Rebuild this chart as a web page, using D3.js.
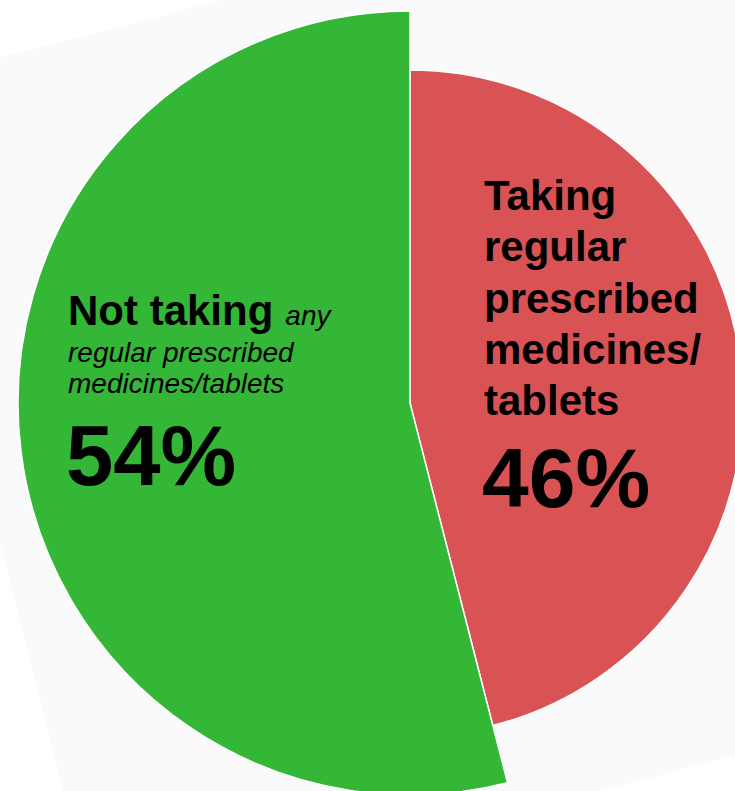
<!DOCTYPE html>
<html>
<head>
<meta charset="utf-8">
<script src="https://cdn.jsdelivr.net/npm/d3@7"></script>
<style>
  html, body { margin: 0; padding: 0; background: #ffffff; }
  svg { display: block; }
  text { font-family: "Liberation Sans", Arial, sans-serif; fill: #000; }
</style>
</head>
<body>
<svg id="chart" width="735" height="791"></svg>
<script>
// Share of respondents by medication status
const categories = ["Taking regular prescribed medicines/tablets",
                    "Not taking any regular prescribed medicines/tablets"];
const values = [46, 54];

// Per-slice appearance
const sliceColors = ["#d95355", "#34b636"];
const sliceRadii = [333, 392];

const svg = d3.select("#chart");
const cx = 410, cy = 403;

// faint tilted backdrop sheet
svg.append("rect")
  .attr("x", 0).attr("y", 0)
  .attr("width", 1100).attr("height", 860)
  .attr("fill", "#fafafa")
  .attr("transform", "translate(-118,88) rotate(-14.5)");

const pie = d3.pie().sort(null).value(d => d)(values);

const g = svg.append("g").attr("transform", `translate(${cx},${cy})`);

g.selectAll("path")
  .data(pie)
  .join("path")
  .attr("d", (d, i) => d3.arc().innerRadius(0).outerRadius(sliceRadii[i])(d))
  .attr("fill", (d, i) => sliceColors[i])
  .attr("stroke", "#ffffff")
  .attr("stroke-width", 1.5)
  .attr("stroke-linejoin", "round");

// Label for the red slice
const red = svg.append("text").attr("x", 484).attr("font-weight", "bold").attr("font-size", 42);
["Taking", "regular", "prescribed", "medicines/", "tablets"].forEach((t, i) => {
  red.append("tspan").attr("x", 484).attr("y", 210 + i * 51.3).text(t);
});
svg.append("text")
  .attr("x", 482).attr("y", 507)
  .attr("font-weight", "bold").attr("font-size", 84)
  .text(values[0] + "%");

// Label for the green slice
const green = svg.append("text").attr("x", 68).attr("y", 325);
green.append("tspan").attr("font-weight", "bold").attr("font-size", 42).text("Not taking");
green.append("tspan").attr("font-style", "italic").attr("font-size", 28).attr("dx", 12).text("any");
svg.append("text").attr("x", 68).attr("y", 362)
  .attr("font-style", "italic").attr("font-size", 28).text("regular prescribed");
svg.append("text").attr("x", 68).attr("y", 393)
  .attr("font-style", "italic").attr("font-size", 28).text("medicines/tablets");
svg.append("text")
  .attr("x", 66).attr("y", 485)
  .attr("font-weight", "bold").attr("font-size", 85)
  .text(values[1] + "%");
</script>
</body>
</html>
